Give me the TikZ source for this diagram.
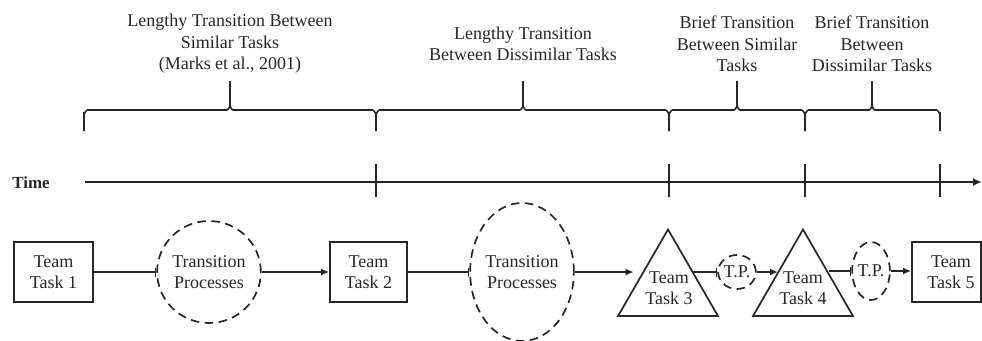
\documentclass[tikz,border=0pt]{standalone}
\usepackage{fontspec}
\setmainfont{Liberation Serif}
\usetikzlibrary{arrows.meta,shapes.geometric}
\definecolor{ink}{gray}{0.15}
\begin{document}
\begin{tikzpicture}[x=1pt,y=-1pt,
  every node/.style={text=ink,font=\fontsize{18}{21.5}\selectfont,align=center,inner sep=0pt},
  ln/.style={draw=ink,line width=1.7pt},
  taskbox/.style={draw=ink,line width=1.7pt,rectangle,minimum height=60pt},
  tproc/.style={draw=ink,line width=1.7pt,ellipse,dash pattern=on 8.5pt off 5.5pt},
  tritask/.style={draw=ink,line width=1.7pt,regular polygon,regular polygon sides=3,minimum size=115.5pt},
  arr/.style={ln,-{Latex[length=8pt,width=7pt]}},
  bar/.style={ln,-{Bar[width=9pt,line width=1.3pt]}},
  bracepath/.style={ln,line width=1.6pt}
]
\useasboundingbox (0,0) rectangle (982,340);

% titles
\node (h1) at (230,44) {Lengthy Transition Between\\Similar Tasks\\(Marks et al., 2001)};
\node (h2) at (523,44) {Lengthy Transition\\Between Dissimilar Tasks};
\node (h3) at (737,44) {Brief Transition\\Between Similar\\Tasks};
\node (h4) at (872,44) {Brief Transition\\Between\\Dissimilar Tasks};

% braces
\foreach \xa/\xm/\xb in {84/230/376, 376/523/669, 669/737/805, 805/872/940}{
  \draw[bracepath] (\xa,131) -- (\xa,113.5) to[out=-90,in=180] (\xa+3.5,110)
     -- (\xm-3,110) to[out=0,in=90] (\xm,106.5) -- (\xm,81);
  \draw[bracepath] (\xm,106.5) to[out=90,in=180] (\xm+3,110)
     -- (\xb-3.5,110) to[out=0,in=-90] (\xb,113.5) -- (\xb,131);
}

% time line
\node[font=\fontsize{17}{20}\selectfont\bfseries] (time) at (31,183) {Time};
\coordinate (t0) at (85,182);
\coordinate (t1) at (982,182);
\draw[ln,-{Latex[length=9pt,width=8pt]}] (t0) -- (t1);
\foreach \x in {376,669,805,940}{
  \draw[ln] (\x,164) -- (\x,197);
}

% task row
\node[taskbox,minimum width=79pt] (b1) at (53.5,272) {Team\\Task 1};
\node[tproc,minimum width=100pt,minimum height=102pt] (c1) at (209,272) {Transition\\Processes};
\node[taskbox,minimum width=77pt] (b2) at (368.5,272) {Team\\Task 2};
\node[tproc,minimum width=101pt,minimum height=138pt] (c2) at (522,272) {Transition\\Processes};
\node[tritask] (tr3) at (668,287.2) {};
\node (tr3txt) at (669,288) {Team\\Task 3};
\node[tproc,minimum width=34pt,minimum height=34pt] (tp1) at (737,272) {T.P.};
\node[tritask] (tr4) at (803,287.2) {};
\node (tr4txt) at (803,288) {Team\\Task 4};
\node[tproc,minimum width=36pt,minimum height=58pt] (tp2) at (871,271) {T.P.};
\node[taskbox,minimum width=69pt] (b5) at (946.5,272) {};
\node (b5txt) at (951,272) {Team\\Task 5};

\coordinate (tr3r) at (693,272);
\coordinate (tr4l) at (778,272);
\coordinate (tr4r) at (829,271);

\draw[bar] (b1.east) -- (c1.west);
\draw[arr] (c1.east) -- (b2.west);
\draw[bar] (b2.east) -- (c2.west);
\draw[arr] (c2.east) -- (tr3.west |- c2.east);
\draw[bar] (tr3r) -- (tp1.west);
\draw[arr] (tp1.east) -- (tr4l);
\draw[bar] (tr4r) -- (tp2.west);
\draw[arr] (tp2.east) -- (b5.west |- tp2.east);
\end{tikzpicture}
\end{document}
